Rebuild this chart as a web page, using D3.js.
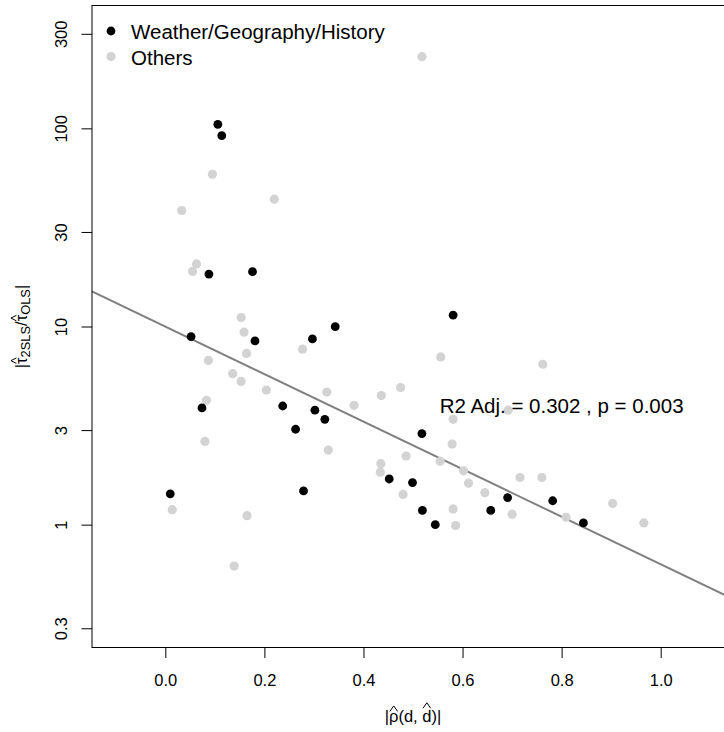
<!DOCTYPE html>
<html><head><meta charset="utf-8">
<script src="https://cdn.jsdelivr.net/npm/d3@7"></script>
<style>
body{margin:0;background:#fff}
text{font-family:"Liberation Sans",Arial,Helvetica,sans-serif;fill:#000}
</style>
</head><body>
<svg id="chart" width="724" height="732"></svg>
<script>
// ---- data ----
const weatherX = [0.106,0.114,0.088,0.176,0.052,0.181,0.297,0.343,0.581,0.074,0.237,0.302,0.322,0.263,0.518,0.452,0.499,0.279,0.010,0.519,0.545,0.657,0.691,0.782,0.844];
const weatherY = [104.8,91.8,18.4,18.9,8.9,8.46,8.66,9.98,11.4,3.88,3.97,3.78,3.40,3.03,2.88,1.70,1.63,1.48,1.43,1.18,1.00,1.18,1.37,1.32,1.02];
const othersX = [0.518,0.095,0.220,0.033,0.063,0.055,0.153,0.159,0.164,0.087,0.136,0.153,0.204,0.277,0.326,0.381,0.436,0.475,0.556,0.762,0.083,0.080,0.329,0.486,0.435,0.434,0.555,0.480,0.014,0.165,0.139,0.692,0.581,0.579,0.602,0.612,0.645,0.716,0.760,0.581,0.586,0.700,0.809,0.903,0.966];
const othersY = [230,58.6,43.9,38.5,20.7,18.96,11.1,9.36,7.31,6.74,5.78,5.28,4.78,7.68,4.67,4.0,4.48,4.92,7.02,6.45,4.24,2.63,2.38,2.22,2.03,1.84,2.09,1.42,1.19,1.11,0.618,3.78,3.40,2.55,1.87,1.62,1.45,1.73,1.73,1.20,0.99,1.13,1.09,1.28,1.02];
const xTicks = [0,0.2,0.4,0.6,0.8,1.0];
const xTickLabels = ["0.0","0.2","0.4","0.6","0.8","1.0"];
const yTicks = [0.3,1,3,10,30,100,300];
const yTickLabels = ["0.3","1","3","10","30","100","300"];
const fitIntercept = 1.0;   // log10 scale
const fitSlope = -1.2;
const legendLabels = ["Weather/Geography/History","Others"];
const seriesColors = ["#000000","#d3d3d3"];
const annotation = "R2 Adj. = 0.302 , p = 0.003";
const annX = 0.8, annY = 4.0;

// ---- layout ----
const L = 92, R = 734, T = 5.5, B = 647.5;
const fsTick = 16.5, fsBig = 20.5;
const svg = d3.select("#chart");
const x = d3.scaleLinear().domain([-0.148, 1.148]).range([L, R]);
const y = d3.scaleLog().domain([Math.pow(10,-0.62), Math.pow(10,2.62)]).range([B, T]);

svg.append("defs").append("clipPath").attr("id","plotclip")
  .append("rect").attr("x",L).attr("y",T).attr("width",R-L).attr("height",B-T);

// regression line
const xs = x.domain();
svg.append("line")
  .attr("clip-path","url(#plotclip)")
  .attr("x1", x(xs[0])).attr("y1", y(Math.pow(10, fitIntercept + fitSlope*xs[0])))
  .attr("x2", x(xs[1])).attr("y2", y(Math.pow(10, fitIntercept + fitSlope*xs[1])))
  .attr("stroke","#808080").attr("stroke-width",2);

// points
const others = othersX.map((v,i)=>({x:v,y:othersY[i]}));
const weather = weatherX.map((v,i)=>({x:v,y:weatherY[i]}));
svg.append("g").selectAll("circle").data(others).join("circle")
  .attr("cx",d=>x(d.x)).attr("cy",d=>y(d.y)).attr("r",4.6).attr("fill",seriesColors[1]);
svg.append("g").selectAll("circle").data(weather).join("circle")
  .attr("cx",d=>x(d.x)).attr("cy",d=>y(d.y)).attr("r",4.4).attr("fill",seriesColors[0]);

// box
svg.append("rect").attr("x",L).attr("y",T).attr("width",R-L).attr("height",B-T)
  .attr("fill","none").attr("stroke","#000").attr("stroke-width",1);

// x axis
const gx = svg.append("g").attr("transform",`translate(0,${B})`)
  .call(d3.axisBottom(x).tickValues(xTicks).tickFormat((d,i)=>xTickLabels[i]).tickSize(10.5).tickSizeOuter(0));
gx.select(".domain").remove();
gx.selectAll("line").attr("stroke","#000");
gx.selectAll("text").attr("y",38.5).attr("dy",0).attr("font-size",fsTick)
  .attr("font-family","Liberation Sans, Arial, sans-serif");

// y axis
const gy = svg.append("g").attr("transform",`translate(${L},0)`)
  .call(d3.axisLeft(y).tickValues(yTicks).tickFormat((d,i)=>yTickLabels[i]).tickSize(10.5).tickSizeOuter(0));
gy.select(".domain").remove();
gy.selectAll("line").attr("stroke","#000");
gy.selectAll("text").attr("transform","rotate(-90)").attr("x",0).attr("y",-25.5).attr("dy",0)
  .attr("text-anchor","middle").attr("font-size",fsTick)
  .attr("font-family","Liberation Sans, Arial, sans-serif");

// legend
const lg = svg.append("g");
legendLabels.forEach((lab,i)=>{
  const cy = 31 + i*25.5;
  lg.append("circle").attr("cx",111).attr("cy",cy).attr("r",i===0?4.4:4.6).attr("fill",seriesColors[i]);
  lg.append("text").attr("x",131).attr("y",cy+8).attr("font-size",fsBig).text(lab);
});

// annotation
svg.append("text").attr("x",x(annX)).attr("y",y(annY)+7.3).attr("text-anchor","middle")
  .attr("font-size",fsBig).text(annotation);

// hat helper
function addHat(g, node, idx, topEm, fs){
  const e = node.getExtentOfChar(idx);
  const x0 = e.x + e.width*0.08, x1 = e.x + e.width*0.92, mid = (x0+x1)/2;
  const base = -topEm*fs - 1.5, apex = base - 5.5;
  g.append("path").attr("d",`M${x0},${base}L${mid},${apex}L${x1},${base}`)
    .attr("fill","none").attr("stroke","#000").attr("stroke-width",1);
}

// x title: |rho-hat(d, d-hat)|
const gxt = svg.append("g").attr("transform",`translate(${(L+R)/2},722)`);
const xt = gxt.append("text").attr("text-anchor","middle").attr("font-size",fsTick);
xt.append("tspan").text("|ρ(d, d)|");
addHat(gxt, xt.node(), 1, 0.55, fsTick);
addHat(gxt, xt.node(), 6, 0.74, fsTick);

// y title: |tau-hat_2SLS / tau-hat_OLS|
const gyt = svg.append("g").attr("transform",`translate(27,${(T+B)/2}) rotate(-90)`);
const yt = gyt.append("text").attr("x",0).attr("font-size",fsTick);
yt.append("tspan").text("|τ");
yt.append("tspan").attr("font-size",fsTick*0.78).attr("dy",3).text("2SLS");
yt.append("tspan").attr("dy",-3).text("/τ");
yt.append("tspan").attr("font-size",fsTick*0.78).attr("dy",3).text("OLS");
yt.append("tspan").attr("dy",-3).text("|");
const ytw = yt.node().getComputedTextLength();
yt.attr("x", -ytw/2);
addHat(gyt, yt.node(), 1, 0.55, fsTick);
addHat(gyt, yt.node(), 7, 0.55, fsTick);
</script>
</body></html>
